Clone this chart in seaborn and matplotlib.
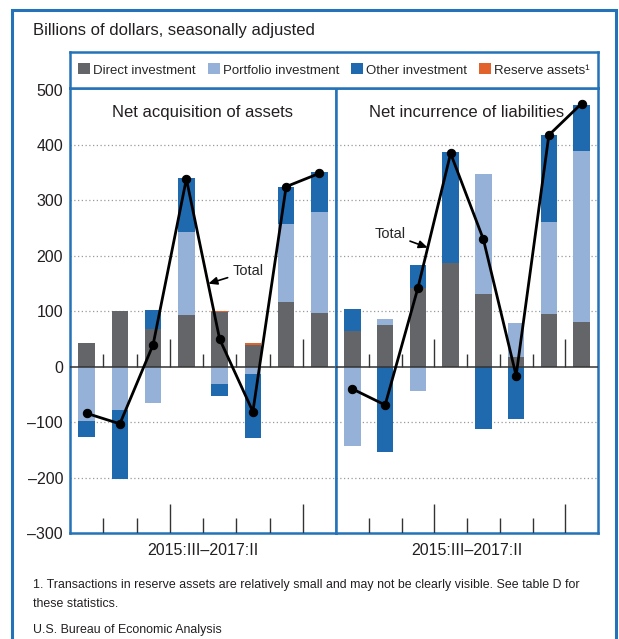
import numpy as np
import matplotlib
matplotlib.use("Agg")
import matplotlib.pyplot as plt
from matplotlib.patches import Patch, Rectangle
import seaborn as sns

quarters = ["2015:III", "2015:IV", "2016:I", "2016:II",
            "2016:III", "2016:IV", "2017:I", "2017:II"]

# Net acquisition of assets (billions of dollars)
assets_direct = [43, 100, 69, 94, 98, 40, 116, 97]
assets_portfolio = [-98, -78, -65, 149, -32, -13, 141, 183]
assets_other = [-28, -124, 33, 98, -20, -116, 68, 71]
assets_reserve = [-1, 0, -1, 0, 2, 2, 0, 0]
assets_total = [-84, -103, 40, 339, 50, -81, 325, 349]

# Net incurrence of liabilities
liab_direct = [64, 76, 143, 187, 131, 17, 96, 81]
liab_portfolio = [-143, 10, -44, 0, 217, 62, 166, 308]
liab_other = [41, -153, 40, 201, -113, -95, 156, 84]
liab_reserve = [0, 0, 0, 0, 0, 0, 0, 0]
liab_total = [-40, -69, 142, 385, 230, -16, 418, 475]

series_names = ["Direct investment", "Portfolio investment",
                "Other investment", "Reserve assets\u00b9"]
colors = ["#646569", "#95b1d8", "#1f6aae", "#e2622c"]
frame_blue = "#2472b8"
text_color = "#231f20"
period_label = "2015:III\u20132017:II"

sns.set_style("white")
plt.rcParams["font.family"] = ["Liberation Sans", "DejaVu Sans"]

W, H = 619, 639
fig = plt.figure(figsize=(W / 100, H / 100), dpi=100)


def fx(px):
    return px / W


def fy(py):
    return 1 - py / H


def stacked_bars(ax, parts):
    # positives stack upward, negatives downward, drawn as overlaid cumulative bars
    arr = np.array(parts, dtype=float)
    pos = np.cumsum(np.clip(arr, 0, None), axis=0)
    neg = np.cumsum(np.clip(arr, None, 0), axis=0)
    for k in range(len(parts) - 1, -1, -1):
        for side, mask in ((pos, arr[k] > 0), (neg, arr[k] < 0)):
            if not mask.any():
                continue
            y = np.where(mask, side[k], np.nan)
            sns.barplot(x=quarters, y=y, order=quarters, color=colors[k],
                        saturation=1, width=0.5, errorbar=None,
                        edgecolor="none", ax=ax)


def panel(ax, parts, total, title):
    stacked_bars(ax, parts)
    sns.lineplot(x=np.arange(len(quarters)), y=total, ax=ax, color="black",
                 lw=2.0, marker="o", markersize=6, markeredgecolor="black",
                 zorder=5)
    ax.set_xlim(-0.5, len(quarters) - 0.5)
    ax.set_ylim(-300, 503)
    for yv in [-200, -100, 100, 200, 300, 400]:
        ax.axhline(yv, color="#9a9a9a", lw=0.9, ls=(0, (1, 2)), zorder=0)
    ax.axhline(0, color="#333333", lw=1.1, zorder=4)
    # quarter separators at the zero line and along the bottom
    for i in range(len(quarters) - 1):
        tall = i in (2, 6)
        ax.vlines(i + 0.5, 0, 50 if tall else 23, color="#333333", lw=1.0, zorder=4)
        ax.vlines(i + 0.5, -300, -247 if tall else -273, color="#333333", lw=1.0, zorder=4)
    ax.set_xticks([])
    ax.set_xlabel("")
    ax.set_ylabel("")
    ax.text(0.5, 0.945, title, transform=ax.transAxes, ha="center", va="center",
            fontsize=12, color=text_color)
    ax.text(0.5, -0.04, period_label, transform=ax.transAxes, ha="center",
            va="center", fontsize=11.5, color=text_color)
    for s in ax.spines.values():
        s.set_color(frame_blue)
        s.set_linewidth(1.8)


ax_l = fig.add_axes([fx(70), fy(533), fx(336) - fx(70), fy(88) - fy(533)])
ax_r = fig.add_axes([fx(336), fy(533), fx(598) - fx(336), fy(88) - fy(533)])

panel(ax_l, [assets_direct, assets_portfolio, assets_other, assets_reserve],
      assets_total, "Net acquisition of assets")
panel(ax_r, [liab_direct, liab_portfolio, liab_other, liab_reserve],
      liab_total, "Net incurrence of liabilities")

ax_l.set_yticks(range(-300, 501, 100))
ax_l.set_yticklabels([f"{v}".replace("-", "\u2013") for v in range(-300, 501, 100)],
                     fontsize=11.5, color=text_color)
ax_l.tick_params(axis="y", length=0, pad=5)
ax_r.set_yticks([])

arrow = dict(arrowstyle="-|>,head_length=0.5,head_width=0.22", color="black",
             lw=1.2, shrinkA=1, shrinkB=0)
ax_l.annotate("Total", xy=(3.66, 150), xytext=(4.38, 172), ha="left",
              va="center", fontsize=10.5, arrowprops=arrow, zorder=6)
ax_r.annotate("Total", xy=(2.3, 215), xytext=(1.62, 240), ha="right",
              va="center", fontsize=10.5, arrowprops=arrow, zorder=6)

# legend strip above the panels
ax_leg = fig.add_axes([fx(70), fy(88), fx(598) - fx(70), fy(52) - fy(88)])
ax_leg.set_xticks([])
ax_leg.set_yticks([])
for s in ax_leg.spines.values():
    s.set_color(frame_blue)
    s.set_linewidth(1.8)
handles = [Patch(facecolor=c, edgecolor="none") for c in colors]
ax_leg.legend(handles, series_names, ncol=4, loc="center", frameon=False,
              handlelength=0.9, handleheight=0.9, handletextpad=0.25,
              columnspacing=0.9, borderaxespad=0, prop={"size": 9.5})

fig.text(fx(33), fy(30), "Billions of dollars, seasonally adjusted",
         fontsize=12, ha="left", va="center", color=text_color)
fig.text(fx(33), fy(585),
         "1. Transactions in reserve assets are relatively small and may not be "
         "clearly visible. See table D for",
         fontsize=8.9, ha="left", va="center", color=text_color)
fig.text(fx(33), fy(604), "these statistics.", fontsize=8.9,
         ha="left", va="center", color=text_color)
fig.text(fx(33), fy(630), "U.S. Bureau of Economic Analysis", fontsize=8.9,
         ha="left", va="center", color=text_color)

# outer frame
fig.patches.append(Rectangle((fx(12), -0.02), fx(616) - fx(12), fy(10) + 0.02,
                             transform=fig.transFigure, fill=False,
                             edgecolor=frame_blue, lw=2.2))

fig.savefig("out.png", dpi=100)
